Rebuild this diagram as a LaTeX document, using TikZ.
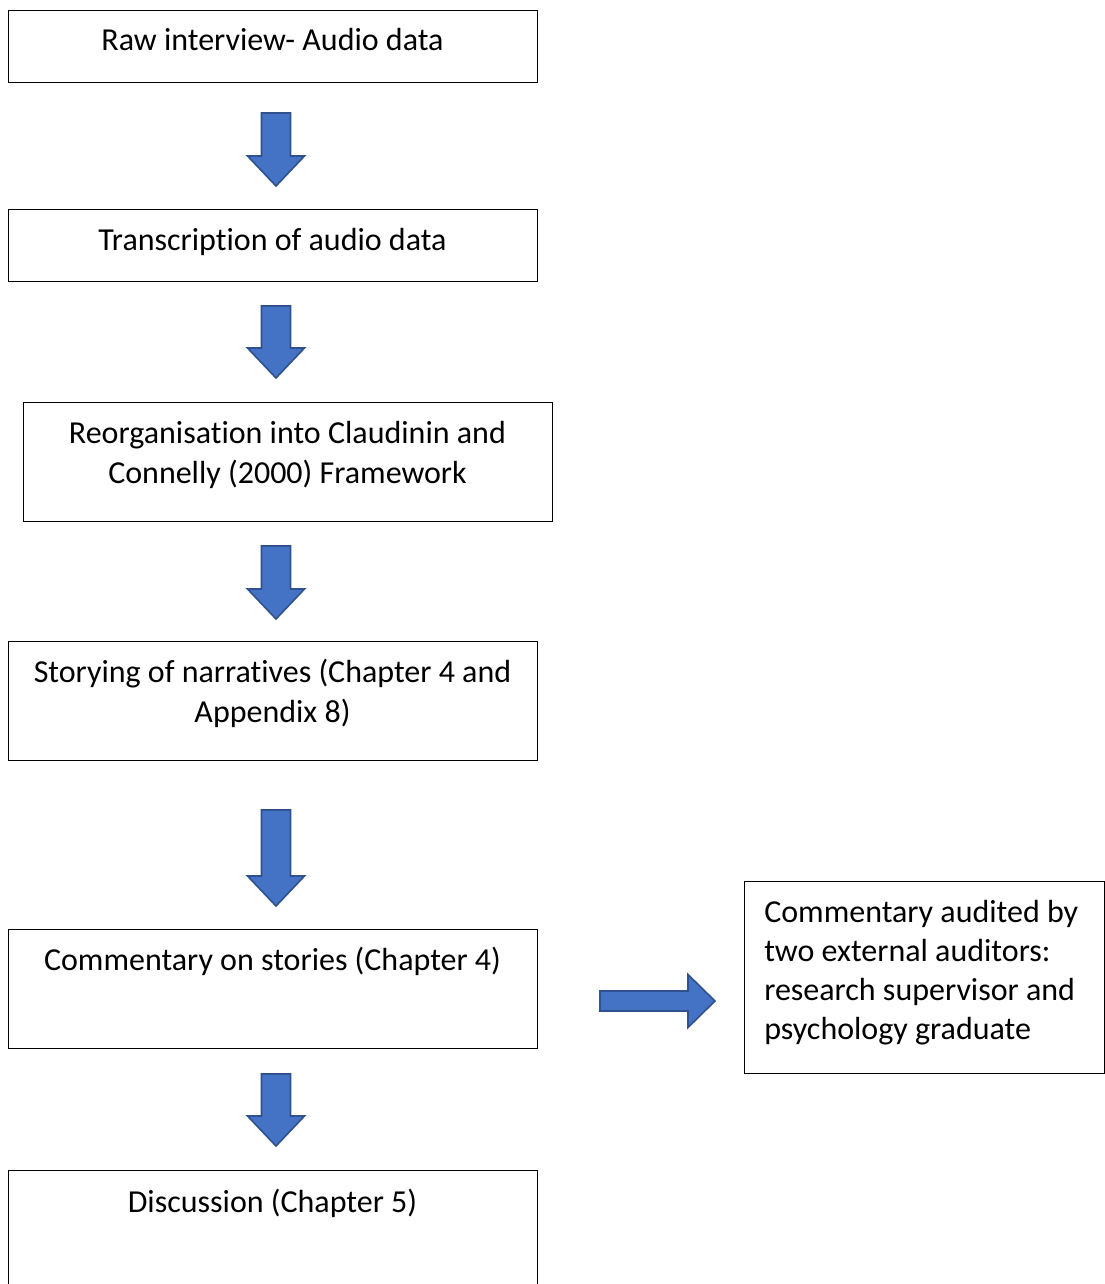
\documentclass[tikz,border=0pt]{standalone}
\usepackage{fontspec}
\setmainfont{Carlito}[Ligatures=NoCommon]
\definecolor{arrowblue}{HTML}{4472C4}
\definecolor{arrowedge}{HTML}{2F528F}
\newcommand\dnarrow[3]{\draw[blk] (#1-14.5,#2) -- (#1+14.5,#2) -- (#1+14.5,#3-30) -- (#1+28.5,#3-30) -- (#1,#3) -- (#1-28.5,#3-30) -- (#1-14.5,#3-30) -- cycle;}
\begin{document}
\begin{tikzpicture}[x=0.75pt,y=-0.75pt,
  box/.style={draw=black, line width=1.1pt, fill=white, inner sep=0pt, anchor=north west},
  txt/.style={font=\fontsize{24}{29.5}\selectfont, align=center, anchor=base, inner sep=0pt},
  blk/.style={fill=arrowblue, draw=arrowedge, line width=1.2pt, line join=miter}]
\useasboundingbox[fill=white] (0,0) rectangle (1105,1284);
% boxes
\node[box, minimum width=396.75pt, minimum height=54pt] (b1) at (8,10) {};
\node[box, minimum width=396.75pt, minimum height=54pt] (b2) at (8,209) {};
\node[box, minimum width=396.75pt, minimum height=89.25pt] (b3) at (23,402) {};
\node[box, minimum width=396.75pt, minimum height=89.25pt] (b4) at (8,641) {};
\node[box, minimum width=396.75pt, minimum height=89.25pt] (b5) at (8,929) {};
\node[box, minimum width=270pt, minimum height=144pt] (b6) at (744,881) {};
\node[box, minimum width=396.75pt, minimum height=100pt] (b7) at (8,1170) {};
% texts (anchor base = baseline of last line)
\node[txt] (t1) at (272.5,51) {Raw interview- Audio data};
\node[txt] (t2) at (272.5,250) {Transcription of audio data};
\node[txt] (t3) at (287.5,483) {Reorganisation into Claudinin and\\Connelly (2000) Framework};
\node[txt] (t4) at (272.5,722) {Storying of narratives (Chapter 4 and\\Appendix 8)};
\node[txt] (t5) at (272.5,970) {Commentary on stories (Chapter 4)};
\node[txt, font=\fontsize{24}{29.25}\selectfont, align=left, anchor=base west] (t6) at (764,1039) {Commentary audited by\\two external auditors:\\research supervisor and\\psychology graduate};
\node[txt] (t7) at (272.5,1212) {Discussion (Chapter 5)};
% block arrows
\dnarrow{276}{113}{186}
\dnarrow{276}{306}{378}
\dnarrow{276}{546}{619}
\dnarrow{276}{810}{906}
\dnarrow{276}{1074}{1146}
\draw[blk] (600,991) -- (688,991) -- (688,974.5) -- (715,1001) -- (688,1027.5) -- (688,1011) -- (600,1011) -- cycle;
\end{tikzpicture}
\end{document}
